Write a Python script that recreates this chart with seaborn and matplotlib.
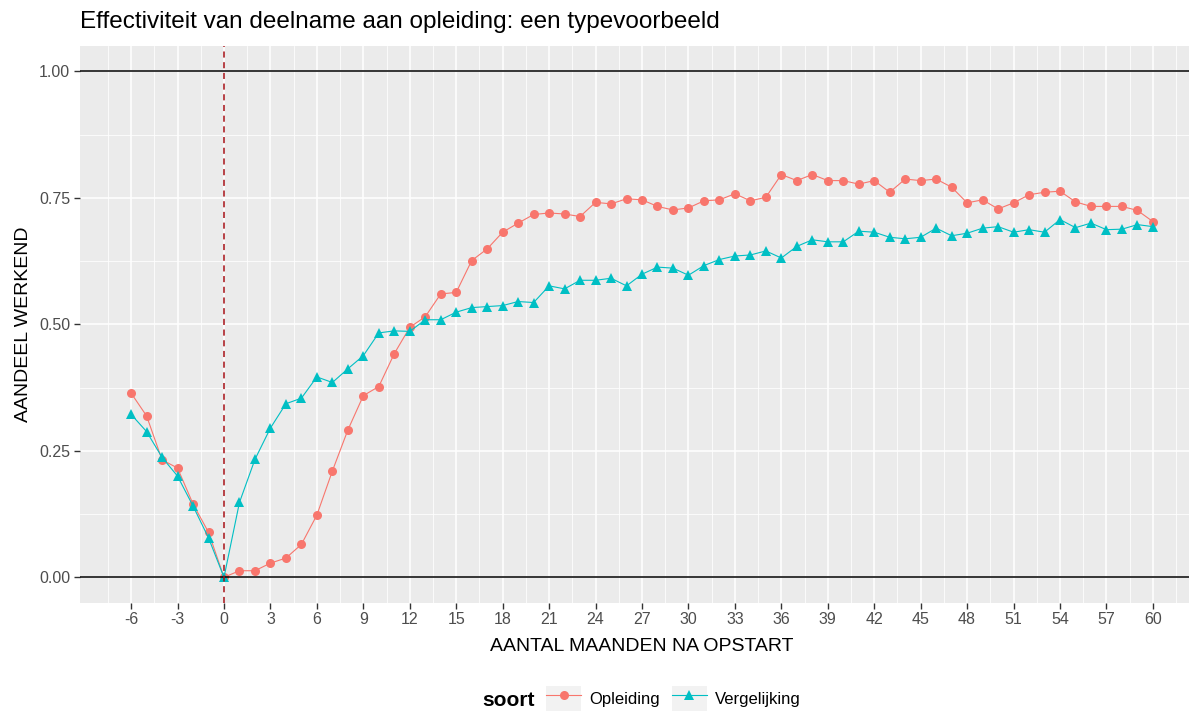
import numpy as np
import pandas as pd
import matplotlib
matplotlib.use('Agg')
import matplotlib.pyplot as plt
import seaborn as sns
from matplotlib.lines import Line2D
from matplotlib.patches import Rectangle
from matplotlib.legend_handler import HandlerTuple

# data
maanden = list(range(-6, 61))
opleiding = [0.364, 0.319, 0.232, 0.216, 0.145, 0.089, 0.000, 0.013, 0.013, 0.028,
             0.038, 0.065, 0.123, 0.210, 0.291, 0.359, 0.377, 0.442, 0.494, 0.515,
             0.560, 0.563, 0.626, 0.649, 0.682, 0.700, 0.717, 0.720, 0.718, 0.713,
             0.741, 0.738, 0.748, 0.746, 0.733, 0.726, 0.730, 0.744, 0.746, 0.758,
             0.744, 0.751, 0.796, 0.784, 0.796, 0.784, 0.784, 0.777, 0.784, 0.761,
             0.787, 0.784, 0.787, 0.771, 0.740, 0.746, 0.728, 0.740, 0.756, 0.761,
             0.763, 0.742, 0.733, 0.733, 0.733, 0.725, 0.703]
vergelijking = [0.322, 0.288, 0.237, 0.200, 0.141, 0.078, 0.000, 0.148, 0.233, 0.295,
                0.343, 0.354, 0.396, 0.385, 0.412, 0.438, 0.483, 0.487, 0.486, 0.509,
                0.509, 0.524, 0.533, 0.535, 0.537, 0.545, 0.543, 0.576, 0.570, 0.587,
                0.587, 0.591, 0.576, 0.599, 0.613, 0.611, 0.597, 0.616, 0.628, 0.635,
                0.637, 0.645, 0.631, 0.654, 0.667, 0.663, 0.663, 0.684, 0.682, 0.672,
                0.669, 0.672, 0.690, 0.675, 0.680, 0.690, 0.693, 0.682, 0.687, 0.682,
                0.707, 0.691, 0.700, 0.687, 0.688, 0.697, 0.693]
soorten = ['Opleiding', 'Vergelijking']
kleuren = ['#F8766D', '#00BFC4']

df = pd.DataFrame({
    'maand': maanden * 2,
    'aandeel': opleiding + vergelijking,
    'soort': [soorten[0]] * len(maanden) + [soorten[1]] * len(maanden),
})

plt.rcParams['font.family'] = ['Liberation Sans', 'DejaVu Sans']
plt.rcParams['axes.unicode_minus'] = False

fig = plt.figure(figsize=(11.89, 7.11), dpi=100)
ax = fig.add_axes([80 / 1189, (711 - 602.6) / 711, 1124 / 1189, 556.6 / 711])
ax.set_facecolor('#EBEBEB')

sns.lineplot(data=df, x='maand', y='aandeel', hue='soort', style='soort',
             markers=['o', '^'], dashes=False, palette=kleuren, linewidth=0.8,
             markersize=6.5, markeredgewidth=0, ax=ax, legend=False, zorder=3)

ax.axhline(0, color='black', lw=1.1, zorder=4)
ax.axhline(1, color='black', lw=1.1, zorder=4)
ax.axvline(0, color='#A50F15', lw=1.1, ls=(0, (4, 3)), zorder=4)

ax.set_xlim(-9.3, 63.3)
ax.set_ylim(-0.05, 1.05)
ax.set_xticks(np.arange(-6, 61, 3))
minor_x = np.arange(-9, 63.1, 1.5)
ax.set_xticks(minor_x[minor_x % 3 != 0], minor=True)
ax.set_yticks([0, 0.25, 0.5, 0.75, 1.0])
ax.set_yticks([0.125, 0.375, 0.625, 0.875], minor=True)
ax.set_yticklabels(['0.00', '0.25', '0.50', '0.75', '1.00'])
ax.grid(which='major', color='white', lw=1.1)
ax.grid(which='minor', color='white', lw=0.55)
ax.set_axisbelow(True)
for s in ax.spines.values():
    s.set_visible(False)
ax.tick_params(which='major', length=4, width=1, color='#333333', labelsize=11.5,
               labelcolor='#4D4D4D', pad=3)
ax.tick_params(which='minor', length=0)

ax.set_xlabel('AANTAL MAANDEN NA OPSTART', fontsize=14, labelpad=8)
ax.set_ylabel('AANDEEL WERKEND', fontsize=14, labelpad=5)
fig.text(80 / 1189, 1 - 22 / 711, 'Effectiviteit van deelname aan opleiding: een typevoorbeeld',
         fontsize=17.5, va='center', ha='left')

# legend at the bottom
handles = []
for kleur, marker in zip(kleuren, ['o', '^']):
    bg = Rectangle((0, 0), 1, 1, facecolor='#F2F2F2', edgecolor='none')
    ln = Line2D([0], [0], color=kleur, lw=0.8, marker=marker, markersize=6.5,
                markeredgewidth=0)
    handles.append((bg, ln))
fig.text(482 / 1189, 1 - 700 / 711, 'soort', fontsize=15, fontweight='bold',
         va='center', ha='left')
fig.legend(handles, soorten, handler_map={tuple: HandlerTuple(ndivide=1, pad=0)},
           loc='center left', bbox_to_anchor=(546 / 1189, 1 - 699 / 711), ncol=2,
           frameon=False, fontsize=12, handlelength=2.1, handleheight=2.1,
           handletextpad=0.5, columnspacing=0.7, borderaxespad=0, borderpad=0)

fig.savefig('out.png', dpi=100)
